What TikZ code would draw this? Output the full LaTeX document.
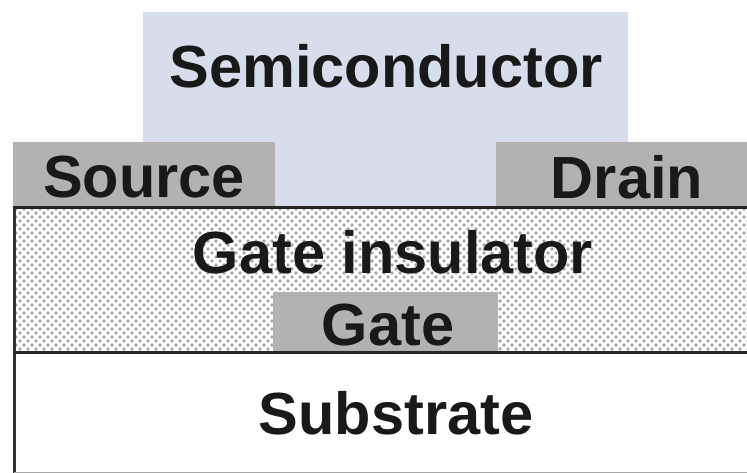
\documentclass[tikz,border=0pt]{standalone}
\usepackage{fontspec}
\setmainfont{Liberation Sans}
\usetikzlibrary{patterns}
\definecolor{semiblue}{RGB}{215,221,234}
\definecolor{metalgray}{RGB}{178,178,178}
\definecolor{dotgray}{RGB}{165,165,165}
\pgfdeclarepatternformonly{insulatordots}{\pgfqpoint{-2pt}{-2pt}}{\pgfqpoint{6pt}{6pt}}{\pgfqpoint{8pt}{8pt}}{
    \pgfpathcircle{\pgfqpoint{0pt}{0pt}}{1.9pt}
    \pgfpathcircle{\pgfqpoint{4pt}{4pt}}{1.9pt}
    \pgfusepath{fill}
}
\begin{document}
\begin{tikzpicture}[x=1pt, y=-1pt, font=\bfseries\fontsize{59.5}{60}\selectfont]
    \tikzset{
        layerlabel/.style={text=black!90, inner sep=0pt, anchor=center},
        metal/.style={fill=metalgray, draw=none},
    }
    \useasboundingbox (0,0) rectangle (747,473);
    \fill[white] (0,0) rectangle (747,473);

    \fill[semiblue] (143,12) rectangle (628,207);
    \fill[metal] (13,142) rectangle (275,207);
    \fill[metal] (496,142) rectangle (747,207);

    \fill[white] (13,207) rectangle (747,352);
    \fill[pattern=insulatordots, pattern color=dotgray] (13,207) rectangle (747,352);
    \fill[metal] (273,292) rectangle (498,352);

    \draw[line width=3pt, black!80] (14,473) -- (14,207);
    \draw[line width=2.5pt, black!85] (12.5,207.5) -- (747,207.5);
    \draw[line width=2.5pt, black!85] (14,352.5) -- (747,352.5);
    \draw[line width=1pt, black!35] (14,472.5) -- (747,472.5);

    \node[layerlabel] (semiconductor) at (386,66) {Semiconductor};
    \node[layerlabel] (source) at (144,177) {Source};
    \node[layerlabel] (drain) at (627,177) {Drain};
    \node[layerlabel] (insulator) at (393,252) {Gate insulator};
    \node[layerlabel] (gate) at (388,325) {Gate};
    \node[layerlabel] (substrate) at (396,413) {Substrate};
\end{tikzpicture}
\end{document}
